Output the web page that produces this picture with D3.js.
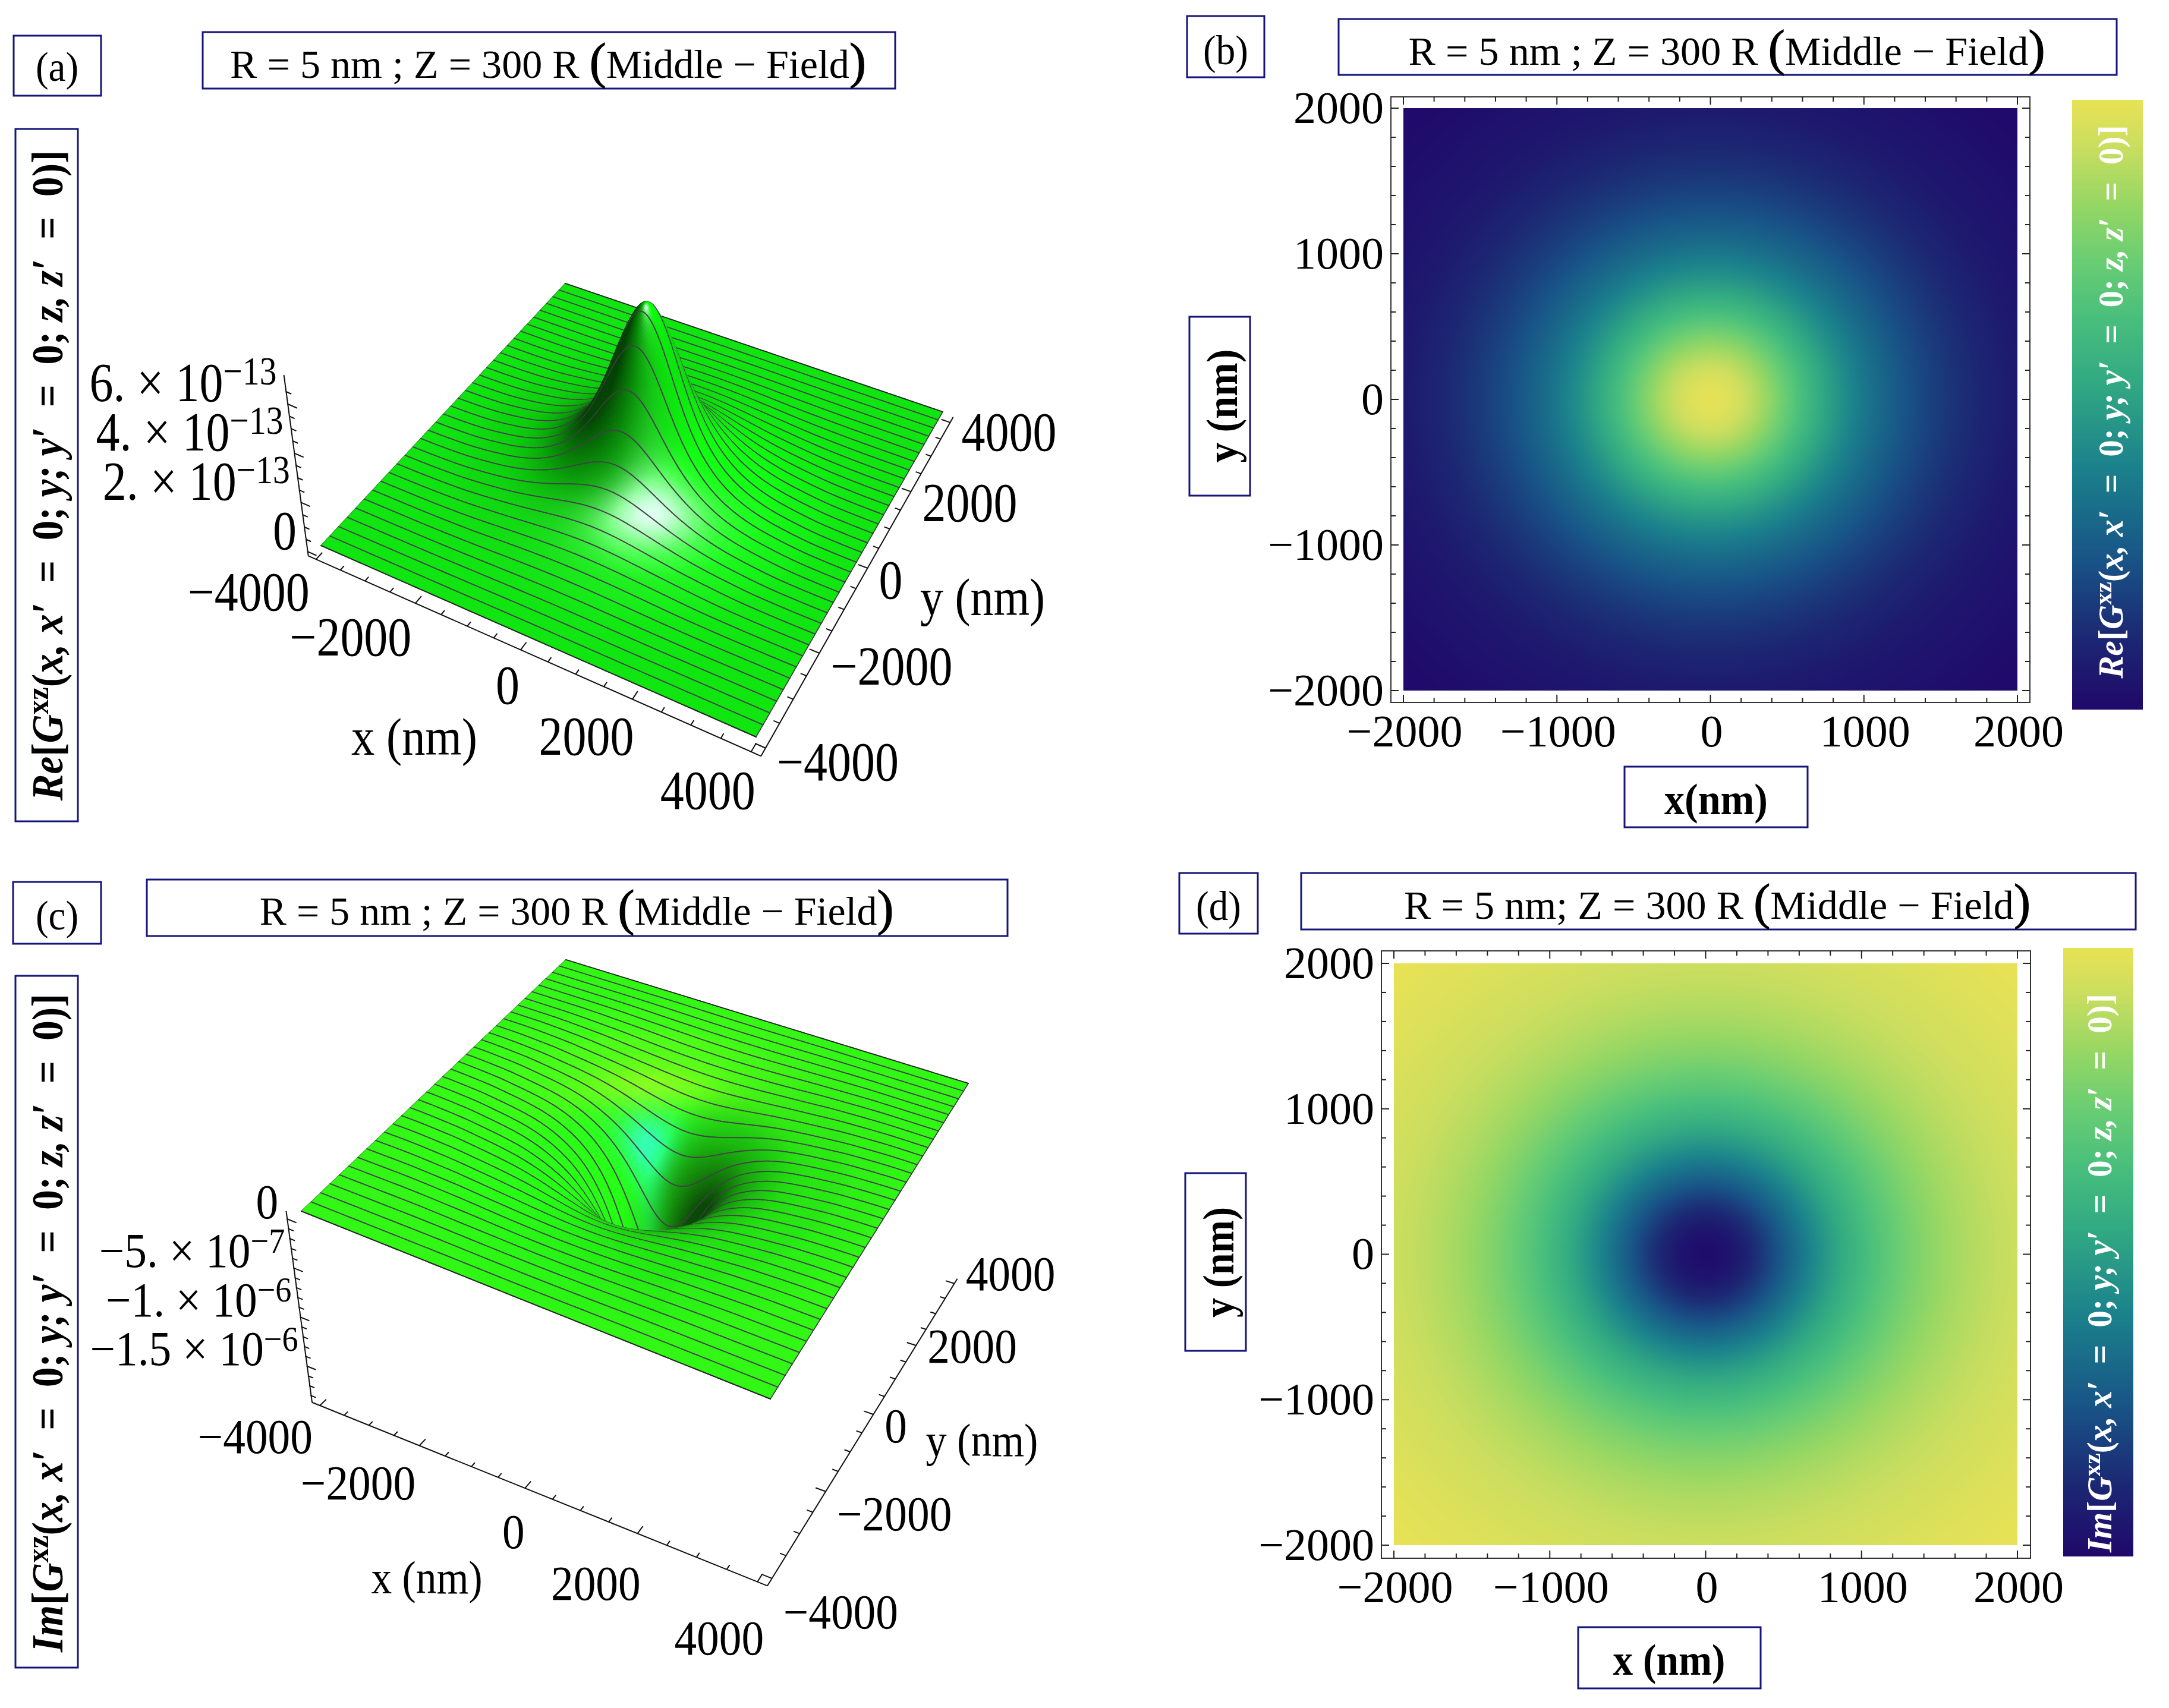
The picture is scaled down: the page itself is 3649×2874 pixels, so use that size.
<!DOCTYPE html>
<html>
<head>
<meta charset="utf-8">
<script src="https://cdn.jsdelivr.net/npm/d3@7"></script>
<style>
  html, body { margin: 0; padding: 0; background: #fff; }
  #wrap { position: relative; width: 3649px; height: 2874px; }
  canvas, svg { position: absolute; left: 0; top: 0; }
  text { font-family: "Liberation Serif", serif; fill: #000; }
</style>
</head>
<body>
<div id="wrap"><canvas id="cv" width="3649" height="2874"></canvas><svg id="chart" width="3649" height="2874"></svg></div>
<script>
// values: radial profile of each panel, r in nm
var radii = [0, 200, 400, 600, 800, 1000, 1200, 1400, 1600, 1800, 2000, 2200, 2400, 2600, 2800, 3000, 3200, 3400, 3600, 3800, 4000, 4200, 4400];
// surface heights, fig (a), units of 1e-13
var reSurface = [7.0, 6.48, 5.5, 4.28, 3.18, 2.32, 1.7, 1.25, .92, .68, .5, .37, .27, .2, .14, .09, .05, .03, .015, .005, 0, 0, 0];
// surface heights, fig (c), units of 1e-6
var imSurface = [-1.88, -1.68, -1.36, -1.01, -.73, -.53, -.39, -.29, -.22, -.165, -.125, -.095, -.075, -.058, -.045, -.032, -.02, -.014, -.008, -.003, 0, 0, 0];
// colour position of the density plots, fig (b) and (d)
var reDensity = [1.01, .95, .81, .63, .48, .36, .27, .2, .145, .1, .065, .045, .03, .015, .005, 0, 0, 0, 0, 0, 0, 0, 0];
var imDensity = [0, .05, .19, .35, .5, .62, .72, .8, .86, .9, .93, .95, .97, .985, 1, 1, 1, 1, 1, 1, 1, 1, 1];

var colorStops = [0, .12, .25, .4, .54, .64, .735, .83, .93, 1];
var colorValues = ["#20086a", "#1c2873", "#185587", "#1b828c", "#32aa82", "#48be7d", "#69cd73", "#96d764", "#cdde5f", "#e8e255"];

var xyTicks3d = [-4000, -2000, 0, 2000, 4000];
var xyTicks2d = [-2000, -1000, 0, 1000, 2000];
var reZTicks = [0, 2, 4, 6];
var imZTicks = [0, -.5, -1, -1.5];

var fmt = function(d) { return String(d).replace("-", "−"); };
var color = d3.scaleLinear().domain(colorStops).range(colorValues).interpolate(d3.interpolateRgb).clamp(true);

// smooth profile through the read values, mirrored so the summit stays round
function profile(values) {
  var rmax = radii[radii.length - 1];
  var mirrored = values.slice(1).reverse().concat(values);
  var basis = d3.interpolateBasis(mirrored);
  return function(d) {
    return basis((Math.min(d, rmax) + rmax) / (2 * rmax));
  };
}

// homography from data square to picture quad
function homography(c) {
  // c = [(-,-), (+,-), (+,+), (-,+)] picture corners
  var x0 = c[0][0], y0 = c[0][1], x1 = c[1][0], y1 = c[1][1], x2 = c[2][0], y2 = c[2][1], x3 = c[3][0], y3 = c[3][1];
  var dx1 = x1 - x2, dx2 = x3 - x2, sx = x0 - x1 + x2 - x3;
  var dy1 = y1 - y2, dy2 = y3 - y2, sy = y0 - y1 + y2 - y3;
  var den = dx1 * dy2 - dx2 * dy1;
  var g = (sx * dy2 - dx2 * sy) / den, h = (dx1 * sy - sx * dy1) / den;
  var a = x1 - x0 + g * x1, b = x3 - x0 + h * x3, d = y1 - y0 + g * y1, e = y3 - y0 + h * y3;
  return function(u, v) {
    var w = g * u + h * v + 1;
    return [(a * u + b * v + x0) / w, (d * u + e * v + y0) / w];
  };
}

var ctx = document.getElementById("cv").getContext("2d");
var svg = d3.select("#chart");

function surfacePanel(o) {
  var uv = d3.scaleLinear().domain([-4000, 4000]).range([0, 1]);
  var H = homography(o.corners);
  var zt = d3.scaleLinear().domain(o.zDomain).range(o.zRange);
  function project(x, y, z) {
    var p = H(uv(x), uv(y)), t = zt(z);
    return [p[0] + (p[0] - o.nadir[0]) * o.k * t, p[1] + (p[1] - o.nadir[1]) * o.k * t];
  }
  var f = profile(o.values);
  function height(x, y) { return f(Math.sqrt(x * x + y * y)); }

  var cells = 33, sub = 9, N = cells * sub;
  var grid = d3.scaleLinear().domain([0, N]).range([-4000, 4000]);
  var pts = [];
  for (var j = 0; j <= N; j++) {
    pts.push([]);
    for (var i = 0; i <= N; i++) pts[j].push(project(grid(i), grid(j), height(grid(i), grid(j))));
  }

  // spot under the eye in data coords, searched over a wide box
  var nad = [0, -4000];
  (function() {
    var best = 1e18;
    for (var a = -12000; a <= 12000; a += 400) for (var b = -60000; b <= -2000; b += 400) {
      var p = H(uv(a), uv(b));
      var e = Math.hypot(p[0] - o.nadir[0], p[1] - o.nadir[1]);
      if (e < best && isFinite(e)) { best = e; nad = [a, b]; }
    }
  })();

  function shade(x, y) {
    var e = 20;
    var gx = (height(x + e, y) - height(x - e, y)) / (2 * e) * o.zScale;
    var gy = (height(x, y + e) - height(x, y - e)) / (2 * e) * o.zScale;
    var l = Math.sqrt(gx * gx + gy * gy + 1);
    var nx = -gx / l, ny = -gy / l, nz = 1 / l;
    // picture-frame components: right and front of the viewer
    var right = nx * .88 + ny * .47, front = nx * .47 - ny * .88;
    var dif = Math.max(0, right * o.L[0] + front * o.L[1] + nz * o.L[2]);
    var spec1 = Math.pow(Math.max(0, front * o.H1[0] + nz * o.H1[1] + right * o.H1[2]), o.p1);
    var spec2 = Math.pow(Math.max(0, front * o.H2[0] + nz * o.H2[1] + right * o.H2[2]), o.p2);
    var lit = o.amb + o.dif * dif;
    var r = o.base[0] * lit + o.sR * spec1 + o.sR2 * spec2;
    var g = o.base[1] * lit + o.sG * spec1 + o.sG2 * spec2;
    var b = o.base[2] * lit + o.sB * spec1 + o.sB2 * spec2;
    return "rgb(" + Math.min(255, r) + "," + Math.min(255, g) + "," + Math.min(255, b) + ")";
  }

  var items = [];
  for (j = 0; j < N; j++) for (i = 0; i < N; i++) {
    var cx = grid(i + .5), cy = grid(j + .5);
    items.push({ t: 0, i: i, j: j, key: Math.hypot(cx - nad[0], cy - nad[1]) });
  }
  // mesh lines along x, each piece drawn right after the nearer quad beside it
  for (j = 0; j <= cells; j++) for (i = 0; i < N; i++) {
    var row = j * sub;
    cx = grid(i + .5);
    var a1 = Math.hypot(cx - nad[0], grid(Math.max(row - .5, 0)) - nad[1]);
    var a2 = Math.hypot(cx - nad[0], grid(Math.min(row + .5, N)) - nad[1]);
    items.push({ t: 1, i: i, j: row, key: Math.min(a1, a2) - 1e-3 });
  }
  // side edges
  [0, N].forEach(function(col) {
    for (j = 0; j < N; j++) {
      items.push({ t: 2, i: col, j: j, key: Math.hypot(grid(col) - nad[0], grid(j + .5) - nad[1]) - 1e-3 });
    }
  });
  items.sort(function(a, b) { return b.key - a.key; });

  ctx.lineJoin = "round";
  ctx.lineCap = "round";
  items.forEach(function(d) {
    var i = d.i, j = d.j;
    if (d.t === 0) {
      var p0 = pts[j][i], p1 = pts[j][i + 1], p2 = pts[j + 1][i + 1], p3 = pts[j + 1][i];
      var c = shade(grid(i + .5), grid(j + .5));
      ctx.fillStyle = c;
      ctx.strokeStyle = c;
      ctx.lineWidth = 1;
      ctx.beginPath();
      ctx.moveTo(p0[0], p0[1]); ctx.lineTo(p1[0], p1[1]); ctx.lineTo(p2[0], p2[1]); ctx.lineTo(p3[0], p3[1]);
      ctx.closePath();
      ctx.fill();
      ctx.stroke();
    } else if (d.t === 1) {
      ctx.strokeStyle = (j === 0 || j === N) ? "#222" : "#45404a";
      ctx.lineWidth = 2;
      ctx.beginPath();
      ctx.moveTo(pts[j][i][0], pts[j][i][1]);
      ctx.lineTo(pts[j][i + 1][0], pts[j][i + 1][1]);
      ctx.stroke();
    } else {
      ctx.strokeStyle = "#333";
      ctx.lineWidth = 1.5;
      ctx.beginPath();
      ctx.moveTo(pts[j][i][0], pts[j][i][1]);
      ctx.lineTo(pts[j + 1][i][0], pts[j + 1][i][1]);
      ctx.stroke();
    }
  });

  // box edges and ticks
  var g = svg.append("g");
  var pad = 4160, zb = o.zBase;
  var path = d3.line();
  function seg(a, b) {
    g.append("path").attr("d", path([a, b])).attr("fill", "none").attr("stroke", "#111").attr("stroke-width", 2);
  }
  seg(project(-pad, -pad, o.zTop), project(-pad, -pad, zb));
  seg(project(-pad, -pad, zb), project(pad, -pad, zb));
  seg(project(pad, -pad, zb), project(pad, pad, zb));

  d3.range(-4000, 4001, 500).forEach(function(v) {
    var len = v % 2000 === 0 ? 170 : 100;
    seg(project(v, -pad, zb), project(v, -pad + len, zb));
    seg(project(pad, v, zb), project(pad - len, v, zb));
  });
  o.zMinor.forEach(function(v) {
    var len = o.zMajor.indexOf(v) >= 0 ? 190 : 110;
    var a = project(-pad, -pad, v), b = project(-pad + len, -pad, v);
    seg([a[0], a[1] + o.tickShift], [b[0], b[1] + o.tickShift]);
  });

  // tick labels
  var xdx = d3.scaleLinear().domain([-4000, 4000]).range(o.xLabelDx);
  var xdy = d3.scaleLinear().domain([-4000, 4000]).range(o.xLabelDy);
  var ydy = d3.scaleLinear().domain([-4000, 4000]).range(o.yLabelDy);
  xyTicks3d.forEach(function(v) {
    var p = project(v, -pad, zb);
    addText(g, fmt(v), p[0] + xdx(v), p[1] + xdy(v), o.tickSize, "end", o.tickScale);
    var q = project(pad, v, zb);
    addText(g, fmt(v), q[0] + 19, q[1] + ydy(v), o.tickSize, "start", o.tickScale);
  });
  o.zTicks.forEach(function(v, i) {
    var p = project(-pad, -pad, v);
    var t = addText(g, "", p[0] + o.zLabelOff[0], p[1] + o.zLabelOff[1], o.tickSize, "end", o.tickScale);
    var lab = o.zText[i];
    if (typeof lab === "string") t.text(lab);
    else {
      t.append("tspan").text(lab[0]);
      t.append("tspan").text(lab[1]).attr("dy", -o.tickSize * .3).style("font-size", (o.tickSize * .72) + "px");
    }
  });
}

// text centred on a point, stretched to a reading length when one is given
function addText(g, s, x, y, size, anchor, sx, rot, weight, style) {
  var t = g.append("text").attr("text-anchor", anchor || "middle").style("font-size", size + "px").text(s);
  t.attr("transform", "translate(" + x + "," + y + ")" + (rot ? " rotate(" + rot + ")" : "") + " scale(" + (sx || 1) + ",1) translate(0," + (size * .34) + ")");
  if (weight) t.style("font-weight", weight);
  if (style) t.style("font-style", style);
  return t;
}

function fitText(t, x, y, size, len, rot) {
  var w = t.node().getComputedTextLength();
  t.attr("transform", "translate(" + x + "," + y + ")" + (rot ? " rotate(" + rot + ")" : "") + " scale(" + (len / w) + ",1) translate(0," + (size * .34) + ")");
}

function box(x0, y0, x1, y1) {
  svg.append("rect").attr("x", x0).attr("y", y0).attr("width", x1 - x0).attr("height", y1 - y0)
    .attr("fill", "#fff").attr("stroke", "#14147a").attr("stroke-width", 3);
}

function title(s, bx, x, y, len) {
  box(bx[0], bx[1], bx[2], bx[3]);
  var t = addText(svg, "", x, y, 68);
  var parts = s.split(/([()])/);
  parts.forEach(function(p) {
    var ts = t.append("tspan").text(p);
    if (p === "(" || p === ")") ts.style("font-size", "84px").style("stroke", "#000").style("stroke-width", "1.2px");
  });
  fitText(t, x, y, 68, len);
}

function tag(s, bx, x, y) {
  box(bx[0], bx[1], bx[2], bx[3]);
  addText(svg, s, x, y, 70, "middle", .93);
}

function plain(s, bx, x, y, len, rot) {
  if (bx) box(bx[0], bx[1], bx[2], bx[3]);
  var t = addText(svg, s, x, y, 74, "middle", 1, rot, "bold");
  fitText(t, x, y, 74, len, rot);
}

// bold italic Re[G^xz(...)] style label
function mathLabel(head, x, y, len, size, fill) {
  var sp = "\u00A0\u00A0";
  var t = svg.append("text").attr("text-anchor", "middle").style("font-size", size + "px").style("font-weight", "bold").style("fill", fill);
  t.append("tspan").text(head).style("font-style", "italic");
  t.append("tspan").text("[");
  t.append("tspan").text("G").style("font-style", "italic");
  t.append("tspan").text("xz").attr("dy", -size * .32).style("font-size", (size * .72) + "px");
  t.append("tspan").text("(").attr("dy", size * .32);
  t.append("tspan").text("x, x′").style("font-style", "italic");
  t.append("tspan").text(sp + "=" + sp + "0; ");
  t.append("tspan").text("y; y′").style("font-style", "italic");
  t.append("tspan").text(sp + "=" + sp + "0; ");
  t.append("tspan").text("z, z′").style("font-style", "italic");
  t.append("tspan").text(sp + "=" + sp + "0)]");
  fitText(t, x, y, size, len, -90);
}

function densityPanel(o) {
  var x = d3.scaleLinear().domain([-2000, 2000]).range(o.xr);
  var y = d3.scaleLinear().domain([-2000, 2000]).range(o.yr);
  var f = profile(o.values);
  var w = Math.round(o.xr[1] - o.xr[0]), h = Math.round(o.yr[0] - o.yr[1]);
  var img = ctx.createImageData(w, h);
  for (var j = 0; j < h; j++) for (var i = 0; i < w; i++) {
    var vx = x.invert(o.xr[0] + i + .5), vy = y.invert(o.yr[1] + j + .5);
    var c = d3.rgb(color(f(Math.sqrt(vx * vx + vy * vy))));
    var k = 4 * (j * w + i);
    img.data[k] = c.r; img.data[k + 1] = c.g; img.data[k + 2] = c.b; img.data[k + 3] = 255;
  }
  ctx.putImageData(img, o.xr[0], o.yr[1]);

  // colour bar
  var cb = o.bar;
  for (j = cb[1]; j < cb[3]; j++) {
    ctx.fillStyle = color((cb[3] - j) / (cb[3] - cb[1]));
    ctx.fillRect(cb[0], j, cb[2] - cb[0], 1);
  }

  // frame
  var fr = o.frame;
  svg.append("rect").attr("x", fr[0]).attr("y", fr[1]).attr("width", fr[2] - fr[0]).attr("height", fr[3] - fr[1])
    .attr("fill", "none").attr("stroke", "#333").attr("stroke-width", 2);
  var g = svg.append("g");
  d3.range(-2000, 2001, 200).forEach(function(v) {
    var major = v % 1000 === 0, len = major ? 13 : 8;
    [[fr[3], -len], [fr[1], len]].forEach(function(e) {
      g.append("line").attr("x1", x(v)).attr("x2", x(v)).attr("y1", e[0]).attr("y2", e[0] + e[1]).attr("stroke", "#222").attr("stroke-width", 2);
    });
    [[fr[0], len], [fr[2], -len]].forEach(function(e) {
      g.append("line").attr("y1", y(v)).attr("y2", y(v)).attr("x1", e[0]).attr("x2", e[0] + e[1]).attr("stroke", "#222").attr("stroke-width", 2);
    });
  });
  xyTicks2d.forEach(function(v) {
    addText(g, fmt(v), x(v) + 2, fr[3] + 48, 76, "middle", 1);
    addText(g, fmt(v), fr[0] - 12, y(v) - 1, 76, "end", 1);
  });
}

surfacePanel({
  values: reSurface,
  corners: [[540, 918], [1272, 1240], [1586, 693], [951, 477]],
  nadir: [1087, 5144], k: .0672,
  zDomain: [0, 6.85], zRange: [0, 1], zScale: 3200 / 6.85,
  zBase: -.3, zTop: 7.05, tickShift: 5,
  zMinor: d3.range(0, 6.51, .5), zMajor: [0, 2, 4, 6],
  zTicks: reZTicks, zText: ["0", ["2. × 10", "−13"], ["4. × 10", "−13"], ["6. × 10", "−13"]],
  zLabelOff: [-18, -31],
  xLabelDx: [-11, 7], xLabelDy: [54, 64], yLabelDy: [23, 16],
  tickSize: 93, tickScale: .86,
  base: [12, 224, 12], amb: .3, dif: .9,
  L: [.5, .3, .8],
  H1: [.55, .83, 0], p1: 24, sR: 60, sG: 20, sB: 60,
  H2: [.62, .78, .05], p2: 18, sR2: 170, sG2: 50, sB2: 190
});

surfacePanel({
  values: imSurface,
  corners: [[507, 2038], [1296, 2354], [1629, 1823], [952, 1615]],
  nadir: [1096, 6575], k: .0674,
  zDomain: [0, -1.85], zRange: [0, -1], zScale: 3200 / 1.85,
  zBase: -1.92, zTop: .03, tickShift: 8,
  zMinor: d3.range(0, -1.81, -.1).map(function(d) { return Math.round(d * 10) / 10; }), zMajor: [0, -.5, -1, -1.5],
  zTicks: imZTicks, zText: ["0", ["−5. × 10", "−7"], ["−1. × 10", "−6"], ["−1.5 × 10", "−6"]],
  zLabelOff: [-14, -21],
  xLabelDx: [-12, 11], xLabelDy: [52, 94], yLabelDy: [56, -17],
  tickSize: 82, tickScale: .92,
  base: [34, 240, 18], amb: .3, dif: .9,
  L: [.5, .3, .8],
  H1: [.3, .95, 0], p1: 40, sR: 110, sG: 20, sB: 10,
  H2: [.75, .65, .05], p2: 22, sR2: 20, sG2: 70, sB2: 190
});

densityPanel({ values: reDensity, xr: [2361, 3394], yr: [1162, 182], frame: [2340, 163, 3415, 1182], bar: [3486, 168, 3605, 1194] });
densityPanel({ values: imDensity, xr: [2345, 3394], yr: [2600, 1621], frame: [2324, 1600, 3416, 2622], bar: [3471, 1595, 3589, 2619] });

// panel tags and titles
tag("(a)", [23, 60, 170, 161], 96, 112);
tag("(b)", [1997, 27, 2127, 130], 2062, 84);
tag("(c)", [22, 1484, 170, 1588], 96, 1540);
tag("(d)", [1984, 1469, 2116, 1571], 2050, 1524);

title("R = 5 nm ; Z = 300 R (Middle − Field)", [341, 54, 1506, 149], 922, 108, 1070);
title("R = 5 nm ; Z = 300 R (Middle − Field)", [2252, 32, 3561, 126], 2905, 86, 1071);
title("R = 5 nm ; Z = 300 R (Middle − Field)", [247, 1480, 1695, 1575], 970, 1533, 1067);
title("R = 5 nm; Z = 300 R (Middle − Field)", [2189, 1469, 3593, 1564], 2889, 1523, 1054);

// axis names
plain("y (nm)", [2001, 533, 2103, 834], 2056, 683, 191, -90);
plain("x(nm)", [2733, 1290, 3041, 1392], 2887, 1345, 174);
plain("y (nm)", [1994, 1974, 2096, 2273], 2050, 2124, 186, -90);
plain("x (nm)", [2655, 2738, 2962, 2841], 2808, 2793, 189);

var axisNames = [["x (nm)", 697, 1240, 212, 88], ["y (nm)", 1653, 1005, 210, 88], ["x (nm)", 718, 2654, 187, 78], ["y (nm)", 1652, 2423, 189, 78]];
axisNames.forEach(function(a) {
  var t = addText(svg, a[0], a[1], a[2], a[4]);
  fitText(t, a[1], a[2], a[4], a[3]);
});

box(26, 217, 131, 1382);
box(26, 1642, 131, 2806);
mathLabel("Re", 80, 800, 1095, 74, "#000");
mathLabel("Im", 80, 2226, 1108, 74, "#000");
mathLabel("Re", 3551, 676, 931, 60, "#fff");
mathLabel("Im", 3532, 2142, 940, 60, "#fff");
</script>
</body>
</html>
